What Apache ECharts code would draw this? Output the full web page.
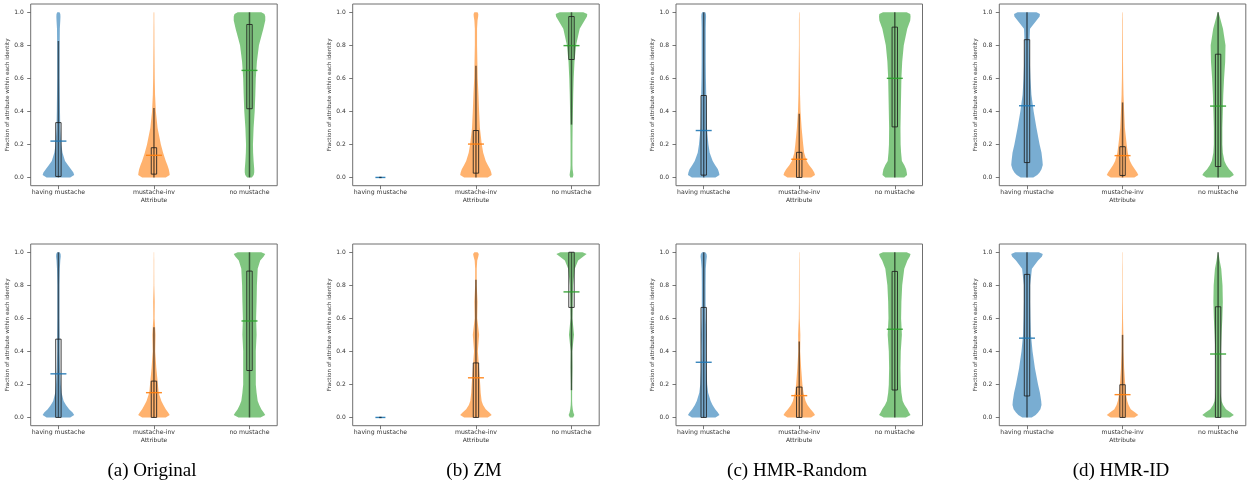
<!DOCTYPE html>
<html>
<head>
<meta charset="utf-8">
<script src="https://cdn.jsdelivr.net/npm/echarts@6/dist/echarts.min.js"></script>
<style>
  html, body { margin: 0; padding: 0; background: #fff; }
  #chart { width: 1247px; height: 486px; }
</style>
</head>
<body>
<div id="chart"></div>
<script>
// Categories, captions and ticks
const categories = ['having mustache', 'mustache-inv', 'no mustache'];
const panelTitles = ['(a) Original', '(b) ZM', '(c) HMR-Random', '(d) HMR-ID'];
const yTicks = [0, 0.2, 0.4, 0.6, 0.8, 1.0];
const xTicks = [0, 1, 2];

// Heights at which the violin half-widths are given (fraction of the widest point)
const densityY = [0, 0.015, 0.03, 0.05, 0.075, 0.1, 0.15, 0.2, 0.3, 0.4, 0.5, 0.6, 0.7, 0.8, 0.9, 0.95, 0.975, 0.99, 1];

// Violin profiles per panel: [having mustache, mustache-inv, no mustache]
const originalTopDensity = [
  [0.75, 1.0, 0.95, 0.8, 0.6, 0.42, 0.26, 0.18, 0.12, 0.1, 0.09, 0.08, 0.08, 0.08, 0.09, 0.12, 0.13, 0.12, 0.07],
  [0.75, 1.0, 0.98, 0.94, 0.85, 0.75, 0.58, 0.44, 0.23, 0.12, 0.07, 0.05, 0.04, 0.03, 0.025, 0.02, 0.02, 0.02, 0.015],
  [0.15, 0.27, 0.3, 0.3, 0.28, 0.26, 0.23, 0.22, 0.26, 0.33, 0.37, 0.4, 0.47, 0.6, 0.88, 1.0, 1.0, 0.95, 0.75]
];
const zmTopDensity = [
  null,
  [0.75, 1.0, 0.97, 0.9, 0.75, 0.62, 0.46, 0.37, 0.25, 0.2, 0.16, 0.11, 0.09, 0.07, 0.07, 0.1, 0.14, 0.15, 0.1],
  [0.08, 0.12, 0.1, 0.07, 0.06, 0.06, 0.06, 0.06, 0.07, 0.09, 0.11, 0.14, 0.19, 0.29, 0.52, 0.83, 0.98, 1.0, 0.75]
];
const randomTopDensity = [
  [0.75, 1.0, 0.97, 0.9, 0.72, 0.57, 0.38, 0.3, 0.2, 0.18, 0.16, 0.14, 0.13, 0.13, 0.13, 0.14, 0.15, 0.14, 0.1],
  [0.75, 1.0, 0.95, 0.83, 0.62, 0.47, 0.31, 0.25, 0.15, 0.08, 0.05, 0.04, 0.03, 0.02, 0.02, 0.02, 0.015, 0.015, 0.01],
  [0.6, 0.78, 0.76, 0.72, 0.6, 0.45, 0.4, 0.37, 0.36, 0.38, 0.4, 0.42, 0.47, 0.57, 0.79, 0.98, 1.0, 0.98, 0.75]
];
const idTopDensity = [
  [0.4, 0.65, 0.8, 0.92, 1.0, 0.98, 0.92, 0.8, 0.6, 0.42, 0.28, 0.22, 0.18, 0.15, 0.19, 0.6, 0.8, 0.82, 0.6],
  [0.75, 1.0, 0.92, 0.78, 0.6, 0.47, 0.33, 0.26, 0.15, 0.1, 0.06, 0.04, 0.03, 0.025, 0.02, 0.02, 0.015, 0.015, 0.01],
  [0.75, 1.0, 0.9, 0.7, 0.52, 0.4, 0.3, 0.27, 0.27, 0.3, 0.33, 0.38, 0.45, 0.47, 0.31, 0.17, 0.1, 0.05, 0.02]
];
const originalBottomDensity = [
  [0.75, 1.0, 0.9, 0.68, 0.48, 0.33, 0.2, 0.15, 0.1, 0.08, 0.08, 0.07, 0.07, 0.07, 0.09, 0.12, 0.15, 0.14, 0.08],
  [0.75, 1.0, 0.9, 0.75, 0.6, 0.47, 0.3, 0.25, 0.15, 0.08, 0.1, 0.04, 0.05, 0.02, 0.015, 0.015, 0.01, 0.01, 0.01],
  [0.7, 1.0, 0.9, 0.75, 0.62, 0.52, 0.45, 0.4, 0.4, 0.4, 0.45, 0.42, 0.45, 0.47, 0.52, 0.68, 0.9, 1.0, 0.75]
];
const zmBottomDensity = [
  null,
  [0.75, 1.0, 0.85, 0.62, 0.45, 0.36, 0.3, 0.27, 0.2, 0.12, 0.2, 0.08, 0.1, 0.05, 0.05, 0.08, 0.15, 0.18, 0.1],
  [0.1, 0.18, 0.12, 0.08, 0.05, 0.04, 0.04, 0.04, 0.06, 0.05, 0.16, 0.06, 0.08, 0.1, 0.21, 0.42, 0.75, 0.96, 0.7]
];
const randomBottomDensity = [
  [0.75, 1.0, 0.9, 0.73, 0.56, 0.44, 0.28, 0.22, 0.17, 0.15, 0.17, 0.13, 0.12, 0.12, 0.13, 0.17, 0.2, 0.18, 0.1],
  [0.75, 1.0, 0.9, 0.72, 0.52, 0.4, 0.27, 0.2, 0.12, 0.06, 0.07, 0.03, 0.02, 0.02, 0.015, 0.015, 0.01, 0.01, 0.01],
  [0.7, 1.0, 0.9, 0.8, 0.62, 0.5, 0.42, 0.38, 0.36, 0.38, 0.45, 0.4, 0.42, 0.47, 0.6, 0.8, 0.95, 1.0, 0.75]
];
const idBottomDensity = [
  [0.3, 0.55, 0.7, 0.85, 0.92, 0.9, 0.82, 0.7, 0.5, 0.35, 0.25, 0.22, 0.2, 0.2, 0.31, 0.7, 0.95, 1.0, 0.75],
  [0.75, 1.0, 0.8, 0.52, 0.38, 0.3, 0.2, 0.17, 0.1, 0.06, 0.05, 0.03, 0.02, 0.015, 0.015, 0.01, 0.01, 0.01, 0.01],
  [0.75, 1.0, 0.8, 0.5, 0.32, 0.22, 0.16, 0.15, 0.15, 0.18, 0.22, 0.27, 0.3, 0.28, 0.2, 0.1, 0.06, 0.03, 0.01]
];

// Box statistics per category: [whisker low, Q1, Q3, whisker high, mean]
const originalTopStats = [[0, 0.006, 0.332, 0.826, 0.22], [0, 0.02, 0.18, 0.42, 0.134], [0, 0.416, 0.926, 1.0, 0.648]];
const zmTopStats = [[0, 0, 0, 0, 0], [0, 0.026, 0.284, 0.676, 0.202], [0.32, 0.714, 0.974, 1.0, 0.798]];
const randomTopStats = [[0, 0.014, 0.496, 1.0, 0.284], [0, 0, 0.152, 0.386, 0.11], [0, 0.306, 0.91, 1.0, 0.6]];
const idTopStats = [[0, 0.09, 0.834, 1.0, 0.434], [0, 0.012, 0.186, 0.454, 0.132], [0, 0.066, 0.746, 1.0, 0.432]];
const originalBottomStats = [[0, 0, 0.474, 1.0, 0.264], [0, 0, 0.22, 0.546, 0.15], [0, 0.284, 0.886, 1.0, 0.584]];
const zmBottomStats = [[0, 0, 0, 0, 0], [0, 0, 0.33, 0.834, 0.24], [0.165, 0.666, 1.0, 1.0, 0.76]];
const randomBottomStats = [[0, 0, 0.666, 1.0, 0.334], [0, 0, 0.184, 0.46, 0.132], [0, 0.166, 0.884, 1.0, 0.534]];
const idBottomStats = [[0, 0.13, 0.866, 1.0, 0.48], [0, 0, 0.198, 0.5, 0.138], [0, 0, 0.67, 1.0, 0.384]];

const panels = [
  [originalTopDensity, originalTopStats], [zmTopDensity, zmTopStats],
  [randomTopDensity, randomTopStats], [idTopDensity, idTopStats],
  [originalBottomDensity, originalBottomStats], [zmBottomDensity, zmBottomStats],
  [randomBottomDensity, randomBottomStats], [idBottomDensity, idBottomStats]
];

// Styling / layout
const palette = ['#1f77b4', '#ff7f0e', '#2ca02c'];
const FONT = 'DejaVu Sans';
const gridLefts = [30.7, 352.7, 676, 999.3];
const gridTops = [4, 244];
const GRID_W = 246.5, GRID_H = 181.7;
const VIOLIN_HALF = 0.165;   // x units at the widest point
const BOX_HALF_PX = 2.7;
const MEAN_HALF_PX = 8;

const chart = echarts.init(document.getElementById('chart'), null, { renderer: 'canvas' });

const grids = [], xAxes = [], yAxes = [], series = [], graphics = [];

panels.forEach(([densities, stats], p) => {
  const col = p % 4, row = Math.floor(p / 4);
  grids.push({
    left: gridLefts[col], top: gridTops[row], width: GRID_W, height: GRID_H,
    show: true, borderColor: '#6f6f6f', borderWidth: 1, backgroundColor: 'transparent'
  });
  xAxes.push({
    type: 'value', gridIndex: p, min: -0.29, max: 2.29, position: 'bottom',
    name: 'Attribute', nameLocation: 'middle', nameGap: 12,
    nameTextStyle: { fontSize: 6, color: '#333', fontFamily: FONT },
    axisLine: { show: false, onZero: false },
    splitLine: { show: false },
    axisTick: { show: true, customValues: xTicks, length: 3.5, lineStyle: { color: '#555', width: 0.8 } },
    axisLabel: {
      show: true, customValues: xTicks, margin: 4, fontSize: 6.2, color: '#333', fontFamily: FONT,
      formatter: v => categories[Math.round(v)]
    }
  });
  yAxes.push({
    type: 'value', gridIndex: p, min: -0.05, max: 1.05, position: 'left',
    name: 'Fraction of attribute within each identity', nameLocation: 'middle', nameGap: 14.5, nameRotate: 90,
    nameTextStyle: { fontSize: 5.6, color: '#333', fontFamily: FONT },
    axisLine: { show: false, onZero: false },
    splitLine: { show: false },
    axisTick: { show: true, customValues: yTicks, length: 3.5, lineStyle: { color: '#555', width: 0.8 } },
    axisLabel: {
      show: true, customValues: yTicks, margin: 7, fontSize: 6, color: '#333', fontFamily: FONT,
      formatter: v => v.toFixed(1)
    }
  });
  series.push({
    type: 'custom',
    xAxisIndex: p, yAxisIndex: p,
    data: stats.map((s, i) => [i].concat(s)),
    encode: { x: 0, y: [1, 2, 3, 4, 5] },
    silent: true,
    renderItem(params, api) {
      const i = api.value(0);
      const lo = api.value(1), q1 = api.value(2), q3 = api.value(3), hi = api.value(4), mean = api.value(5);
      const dens = densities[i];
      const color = palette[i];
      const unit = api.size([1, 0])[0];
      const cx = api.coord([i, 0])[0];
      const children = [];
      if (dens) {
        const half = VIOLIN_HALF * unit;
        const right = densityY.map((y, k) => [cx + dens[k] * half, api.coord([i, y])[1]]);
        const left = densityY.map((y, k) => [cx - dens[k] * half, api.coord([i, y])[1]]).reverse();
        children.push({
          type: 'polygon',
          shape: { points: right.concat(left) },
          style: { fill: color, opacity: 0.6 }
        });
        // whisker
        children.push({
          type: 'line',
          shape: { x1: cx, y1: api.coord([i, lo])[1], x2: cx, y2: api.coord([i, hi])[1] },
          style: { stroke: 'rgba(0,0,0,0.55)', lineWidth: 1.5 }
        });
        // inter-quartile box
        const yTop = api.coord([i, q3])[1], yBot = api.coord([i, q1])[1];
        children.push({
          type: 'rect',
          shape: { x: cx - BOX_HALF_PX, y: yTop, width: BOX_HALF_PX * 2, height: yBot - yTop },
          style: { fill: 'none', stroke: 'rgba(30,30,30,0.85)', lineWidth: 1 }
        });
        // mean marker
        const ym = api.coord([i, mean])[1];
        children.push({
          type: 'line',
          shape: { x1: cx - MEAN_HALF_PX, y1: ym, x2: cx + MEAN_HALF_PX, y2: ym },
          style: { stroke: color, lineWidth: 1.4, opacity: 0.9 }
        });
      } else {
        // all values identical: flat marker
        const ym = api.coord([i, mean])[1];
        children.push({
          type: 'line',
          shape: { x1: cx - 5, y1: ym, x2: cx + 5, y2: ym },
          style: { stroke: color, lineWidth: 1.4, opacity: 0.9 }
        });
        children.push({
          type: 'line',
          shape: { x1: cx - 1.2, y1: ym, x2: cx + 1.2, y2: ym },
          style: { stroke: 'rgba(0,0,0,0.6)', lineWidth: 1.4 }
        });
      }
      return { type: 'group', children };
    }
  });
});

// Sub-figure captions
const captionX = [152, 474, 797, 1121];
panelTitles.forEach((t, k) => {
  graphics.push({
    type: 'text', x: captionX[k], y: 471,
    style: {
      text: t, fontFamily: 'Liberation Serif', fontSize: 19, fill: '#000',
      textAlign: 'center', textVerticalAlign: 'middle'
    }
  });
});

chart.setOption({
  animation: false,
  backgroundColor: '#ffffff',
  grid: grids,
  xAxis: xAxes,
  yAxis: yAxes,
  series: series,
  graphic: graphics
});
</script>
</body>
</html>
